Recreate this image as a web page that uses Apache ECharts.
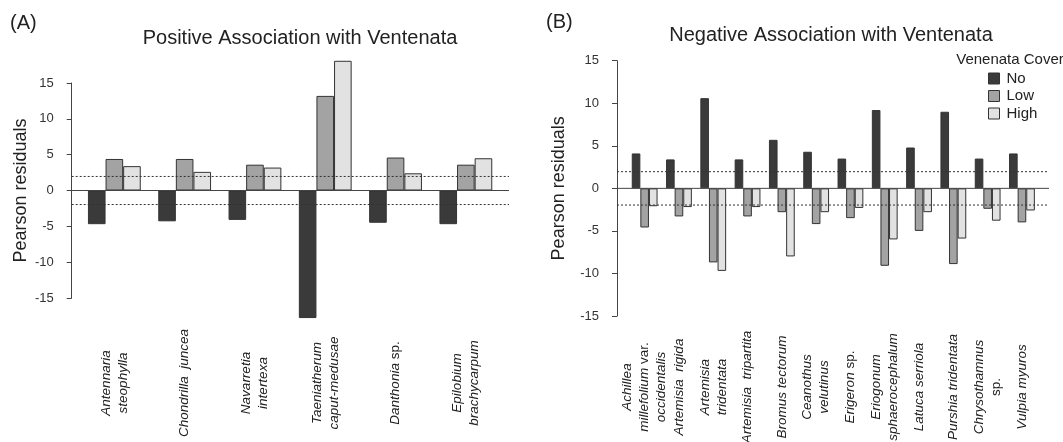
<!DOCTYPE html>
<html>
<head>
<meta charset="utf-8">
<script src="https://cdn.jsdelivr.net/npm/echarts@6/dist/echarts.min.js"></script>
<style>
html,body{margin:0;padding:0;background:#fff;}
#chart{width:1063px;height:442px;}
</style>
</head>
<body>
<div id="chart"></div>
<script>
// ---- Data ----
var groups = ['No', 'Low', 'High'];
var posCategories = ['Antennaria\nsteophylla', 'Chondrilla  juncea', 'Navarretia\nintertexa', 'Taeniatherum\ncaput-medusae', 'Danthonia sp.', 'Epilobium\nbrachycarpum'];
var posNo   = [-4.7, -4.3, -4.1, -17.8, -4.5, -4.7];
var posLow  = [4.4, 4.4, 3.6, 13.2, 4.6, 3.6];
var posHigh = [3.4, 2.6, 3.2, 18.1, 2.4, 4.5];

var negCategories = ['Achillea\nmillefolium var.\noccidentalis', 'Artemisia  rigida', 'Artemisia\ntridentata', 'Artemisia  tripartita', 'Bromus tectorum', 'Ceanothus\nvelutinus', 'Erigeron sp.', 'Eriogonum\nsphaerocephalum', 'Latuca serriola', 'Purshia tridentata', 'Chrysothamnus\nsp.', 'Vulpia myuros'];
var negNo   = [4.1, 3.4, 10.6, 3.4, 5.7, 4.3, 3.5, 9.2, 4.8, 9.0, 3.5, 4.1];
var negLow  = [-4.6, -3.3, -8.7, -3.3, -2.8, -4.2, -3.5, -9.1, -5.0, -8.9, -2.4, -4.0];
var negHigh = [-2.1, -2.2, -9.7, -2.2, -8.0, -2.8, -2.3, -6.0, -2.8, -5.9, -3.8, -2.6];

var refLines = [0, 1.96, -1.96];
var yTicks = {min: -15, max: 15, interval: 5};

var colors = {No: '#3a3a3a', Low: '#a3a3a3', High: '#e2e2e2'};
var FONT = '"Liberation Sans", Arial, Helvetica, sans-serif';

// ---- Helpers ----
function fmtLabel(v) {
  return v.split('\n').map(function (line) {
    return line.split(/(sp\.|var\.)/).filter(function (s) { return s.length; }).map(function (s) {
      return (s === 'sp.' || s === 'var.') ? '{n|' + s + '}' : '{i|' + s + '}';
    }).join('');
  }).join('\n');
}
var richStyle = {
  i: {fontStyle: 'italic', fontSize: 13.5, lineHeight: 17, color: '#222', fontFamily: FONT},
  n: {fontStyle: 'normal', fontSize: 13.5, lineHeight: 17, color: '#222', fontFamily: FONT}
};

function catAxis(gridIndex, cats, margin) {
  return {
    type: 'category', gridIndex: gridIndex, data: cats, position: 'bottom',
    axisLine: {show: false, onZero: false}, axisTick: {show: false},
    axisLabel: {
      interval: 0, rotate: 90, align: 'center', verticalAlign: 'middle', margin: margin,
      formatter: fmtLabel, rich: richStyle, fontSize: 13.5, fontFamily: FONT, color: '#222'
    }
  };
}
function valAxis(gridIndex, offset, nameGap) {
  return {
    type: 'value', gridIndex: gridIndex, min: yTicks.min, max: yTicks.max, interval: yTicks.interval,
    offset: offset, position: 'left',
    name: 'Pearson residuals', nameLocation: 'middle', nameRotate: 90, nameGap: nameGap,
    nameTextStyle: {fontSize: 18, fontFamily: FONT, color: '#222'},
    axisLine: {show: true, lineStyle: {color: '#444', width: 1}},
    axisTick: {show: true, length: 5, lineStyle: {color: '#444'}},
    axisLabel: {fontSize: 13, fontFamily: FONT, color: '#333', margin: 18},
    splitLine: {show: false}
  };
}
function lineAxes(gridIndex) {
  return {
    x: {type: 'value', gridIndex: gridIndex, min: 0, max: 1, show: false},
    y: {type: 'value', gridIndex: gridIndex, min: yTicks.min, max: yTicks.max, show: false}
  };
}
function barSeries(name, data, axisIdx, w) {
  return {
    type: 'bar', name: name, data: data, xAxisIndex: axisIdx, yAxisIndex: axisIdx,
    barWidth: w, barGap: '0%', clip: false,
    itemStyle: {color: colors[name], borderColor: '#333', borderWidth: 1},
    emphasis: {disabled: true}
  };
}
function refSeries(axisIdx) {
  return refLines.map(function (v) {
    return {
      type: 'line', xAxisIndex: axisIdx, yAxisIndex: axisIdx, silent: true, symbol: 'none', z: 5,
      data: [[0, v], [1, v]],
      lineStyle: v === 0 ? {color: '#444', width: 1, type: 'solid'} : {color: '#333', width: 1, type: [2, 2]}
    };
  });
}

var la1 = lineAxes(1), la3 = lineAxes(3);

var option = {
  animation: false,
  backgroundColor: '#fff',
  textStyle: {fontFamily: FONT},
  grid: [
    {left: 79.2, width: 421.8, top: 83, bottom: 144, outerBoundsMode: 'none', containLabel: false},
    {left: 71.7, width: 437.3, top: 83, bottom: 144, outerBoundsMode: 'none', containLabel: false},
    {left: 627.5, width: 411.6, top: 60.7, bottom: 126, outerBoundsMode: 'none', containLabel: false},
    {left: 617, width: 432, top: 60.7, bottom: 126, outerBoundsMode: 'none', containLabel: false}
  ],
  xAxis: [catAxis(0, posCategories, 85), la1.x, catAxis(2, negCategories, 71), la3.x],
  yAxis: [valAxis(0, 7.5, 42), la1.y, valAxis(2, 10.5, 49), la3.y],
  legend: {
    data: groups, orient: 'vertical', left: 983, top: 66, itemWidth: 11, itemHeight: 11, itemGap: 2.5,
    icon: 'rect', selectedMode: false,
    textStyle: {fontSize: 15, fontFamily: FONT, color: '#222', padding: [0, 0, 0, 2]},
    itemStyle: {borderColor: '#333', borderWidth: 1}
  },
  graphic: [
    {type: 'text', left: 10, top: 13, style: {text: '(A)', fontSize: 20, fontFamily: FONT, fill: '#222'}},
    {type: 'text', left: 546, top: 12, style: {text: '(B)', fontSize: 20, fontFamily: FONT, fill: '#222'}},
    {type: 'text', x: 300, y: 38, style: {text: 'Positive Association with Ventenata', fontSize: 20, fontFamily: FONT, fill: '#222', align: 'center', verticalAlign: 'middle'}},
    {type: 'text', x: 831, y: 35, style: {text: 'Negative Association with Ventenata', fontSize: 20, fontFamily: FONT, fill: '#222', align: 'center', verticalAlign: 'middle'}},
    {type: 'text', x: 1010, y: 60, style: {text: 'Venenata Cover', fontSize: 15, fontFamily: FONT, fill: '#222', align: 'center', verticalAlign: 'middle'}}
  ],
  series: [
    barSeries('No', posNo, 0, 17.6),
    barSeries('Low', posLow, 0, 17.6),
    barSeries('High', posHigh, 0, 17.6)
  ].concat(refSeries(1)).concat([
    barSeries('No', negNo, 2, 8.6),
    barSeries('Low', negLow, 2, 8.6),
    barSeries('High', negHigh, 2, 8.6)
  ]).concat(refSeries(3))
};

var chart = echarts.init(document.getElementById('chart'), null, {renderer: 'canvas'});
chart.setOption(option);
</script>
</body>
</html>
